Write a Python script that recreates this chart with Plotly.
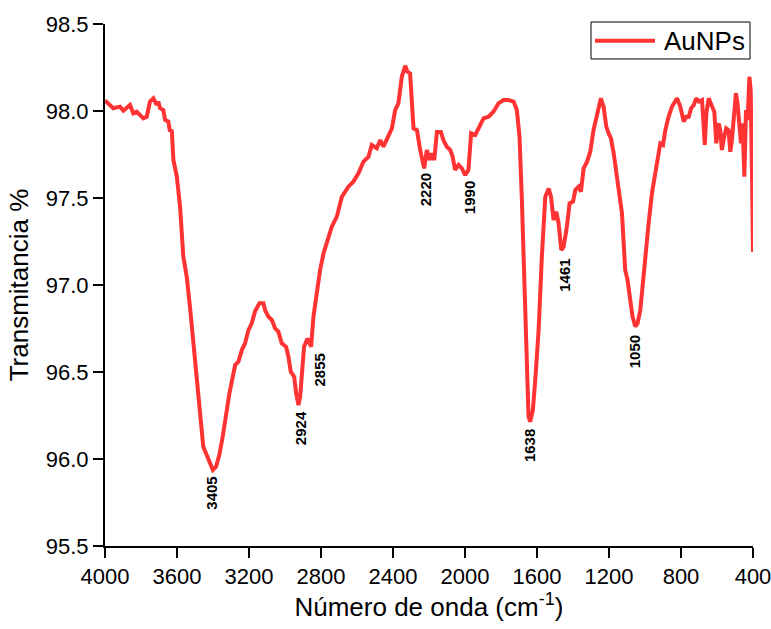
import plotly.graph_objects as go

# Wavenumber (cm^-1) and transmittance (%)
wavenumber = [
    4000, 3972, 3954, 3917, 3898, 3861, 3843, 3824, 3787, 3768, 3750, 3731, 3713, 3704,
    3694, 3676, 3666, 3648, 3639, 3629, 3620, 3601, 3583, 3565, 3546, 3528, 3509, 3490,
    3472, 3454, 3435, 3416, 3401, 3383, 3365, 3346, 3327, 3309, 3290, 3277, 3259, 3240,
    3222, 3203, 3185, 3166, 3142, 3120, 3111, 3092, 3073, 3055, 3037, 3018, 2994, 2981,
    2968, 2949, 2938, 2925, 2916, 2907, 2894, 2875, 2864, 2855, 2842, 2823, 2805, 2786,
    2768, 2740, 2712, 2684, 2648, 2620, 2592, 2564, 2536, 2518, 2490, 2471, 2453, 2434,
    2406, 2388, 2370, 2351, 2332, 2320, 2305, 2286, 2267, 2249, 2240, 2227, 2212, 2197,
    2184, 2171, 2156, 2134, 2120, 2101, 2082, 2069, 2055, 2036, 2017, 1999, 1981, 1966,
    1943, 1916, 1897, 1869, 1842, 1814, 1786, 1758, 1730, 1712, 1697, 1684, 1671, 1660,
    1647, 1638, 1623, 1610, 1591, 1573, 1554, 1535, 1522, 1508, 1493, 1480, 1465, 1452,
    1434, 1419, 1400, 1387, 1369, 1356, 1341, 1322, 1304, 1286, 1263, 1245, 1230, 1215,
    1202, 1189, 1174, 1152, 1128, 1110, 1097, 1082, 1069, 1054, 1041, 1026, 1012, 993,
    980, 961, 943, 924, 915, 900, 887, 869, 850, 822, 804, 785, 771, 757,
    744, 729, 716, 701, 683, 674, 668, 659, 646, 627, 615, 604, 591, 582,
    573, 560, 549, 536, 526, 517, 508, 495, 486, 477, 467, 458, 448, 439,
    430, 420, 413, 405, 400,
]
transmittance = [
    98.06, 98.035, 98.016, 98.025, 98.002, 98.035, 97.987, 97.996, 97.958, 97.967, 98.054, 98.073, 98.035, 98.054,
    98.016, 98.006, 97.949, 97.939, 97.882, 97.891, 97.719, 97.623, 97.45, 97.163, 97.048, 96.875, 96.665, 96.454,
    96.282, 96.071, 96.023, 95.975, 95.937, 95.956, 96.023, 96.128, 96.262, 96.377, 96.473, 96.54, 96.559, 96.626,
    96.665, 96.741, 96.78, 96.85, 96.895, 96.895, 96.856, 96.818, 96.799, 96.751, 96.732, 96.665, 96.645, 96.588,
    96.502, 96.473, 96.377, 96.31, 96.358, 96.511, 96.645, 96.693, 96.665, 96.645, 96.818, 96.971, 97.086, 97.182,
    97.24, 97.335, 97.393, 97.507, 97.565, 97.594, 97.642, 97.709, 97.738, 97.805, 97.786, 97.833, 97.795, 97.843,
    97.9, 98.005, 98.044, 98.197, 98.26, 98.226, 98.216, 97.9, 97.89, 97.776, 97.718, 97.67, 97.776, 97.718,
    97.757, 97.718, 97.88, 97.88, 97.833, 97.795, 97.776, 97.738, 97.661, 97.69, 97.67, 97.632, 97.661, 97.872,
    97.862, 97.919, 97.958, 97.967, 97.996, 98.044, 98.063, 98.063, 98.054, 98.006, 97.852, 97.488, 97.01, 96.53,
    96.243, 96.214, 96.281, 96.45, 96.741, 97.163, 97.507, 97.555, 97.507, 97.373, 97.421, 97.354, 97.201, 97.22,
    97.335, 97.469, 97.479, 97.546, 97.565, 97.536, 97.67, 97.709, 97.766, 97.89, 98.005, 98.073, 98.025, 97.91,
    97.871, 97.843, 97.757, 97.603, 97.412, 97.086, 97.029, 96.914, 96.818, 96.761, 96.78, 96.856, 97.01, 97.259,
    97.354, 97.53, 97.642, 97.776, 97.814, 97.805, 97.89, 97.967, 98.025, 98.073, 98.025, 97.939, 97.967, 97.967,
    98.015, 98.035, 98.073, 98.054, 98.063, 97.91, 97.805, 97.987, 98.073, 98.025, 97.996, 97.814, 97.929, 97.89,
    97.776, 97.852, 97.9, 97.89, 97.766, 97.833, 97.939, 98.102, 98.044, 97.929, 97.814, 97.929, 97.622, 98.006,
    97.949, 98.197, 98.12, 97.6, 97.19,
]

series_name = "AuNPs"

# Peak labels and their anchor points (data units)
peak_labels = ["3405", "2924", "2855", "2220", "1990", "1638", "1461", "1050"]
label_x = [3407, 2916, 2809, 2221, 1977, 1638, 1452, 1054]
label_y = [95.805, 96.178, 96.511, 97.546, 97.50, 96.075, 97.057, 96.615]

x_ticks = [4000, 3600, 3200, 2800, 2400, 2000, 1600, 1200, 800, 400]
y_ticks = [95.5, 96.0, 96.5, 97.0, 97.5, 98.0, 98.5]

FONT = "Liberation Sans"
RED = "rgb(255,51,51)"

fig = go.Figure()
fig.add_trace(go.Scatter(
    x=wavenumber, y=transmittance, mode="lines", name=series_name,
    line=dict(color=RED, width=4), showlegend=False,
))

for txt, lx, ly in zip(peak_labels, label_x, label_y):
    fig.add_annotation(
        x=lx, y=ly, text=f"<b>{txt}</b>", textangle=-90, showarrow=False,
        xanchor="center", yanchor="middle",
        font=dict(family=FONT, size=15, color="black"),
    )

# Legend box (drawn to match the reference frame)
fig.add_shape(type="rect", xref="paper", yref="paper",
              x0=0.750, x1=0.9954, y0=0.933, y1=1.0038,
              line=dict(color="black", width=1), fillcolor="white", layer="above")
fig.add_shape(type="line", xref="paper", yref="paper",
              x0=0.7562, x1=0.8488, y0=0.968, y1=0.968,
              line=dict(color=RED, width=4), layer="above")
fig.add_annotation(xref="paper", yref="paper", x=0.8600, y=0.968,
                   xanchor="left", yanchor="middle", showarrow=False,
                   text=series_name, font=dict(family=FONT, size=26, color="black"))

fig.update_layout(
    width=771, height=629,
    margin=dict(l=105, r=18, t=24, b=83, autoexpand=False),
    paper_bgcolor="white", plot_bgcolor="white",
    font=dict(family=FONT, color="black"),
    showlegend=False,
    xaxis=dict(
        range=[4000, 400], tickvals=x_ticks, ticktext=[str(v) for v in x_ticks],
        showline=True, linecolor="black", linewidth=2, mirror=False,
        ticks="outside", ticklen=10, tickwidth=2, tickcolor="black",
        showgrid=False, zeroline=False, automargin=False, ticklabeloverflow="allow",
        tickfont=dict(size=22, family=FONT),
        title=dict(text="Número de onda (cm<sup>-1</sup>)", font=dict(size=26, family=FONT), standoff=8),
    ),
    yaxis=dict(
        range=[95.5, 98.5], tickvals=y_ticks, ticktext=[f"{v:.1f}" for v in y_ticks],
        showline=True, linecolor="black", linewidth=2, mirror=False,
        ticks="outside", ticklen=10, tickwidth=2, tickcolor="black",
        showgrid=False, zeroline=False, automargin=False, ticklabeloverflow="allow",
        tickfont=dict(size=22, family=FONT),
        title=dict(text="Transmitancia %", font=dict(size=26, family=FONT), standoff=10),
    ),
)

fig.write_html("out.html")
